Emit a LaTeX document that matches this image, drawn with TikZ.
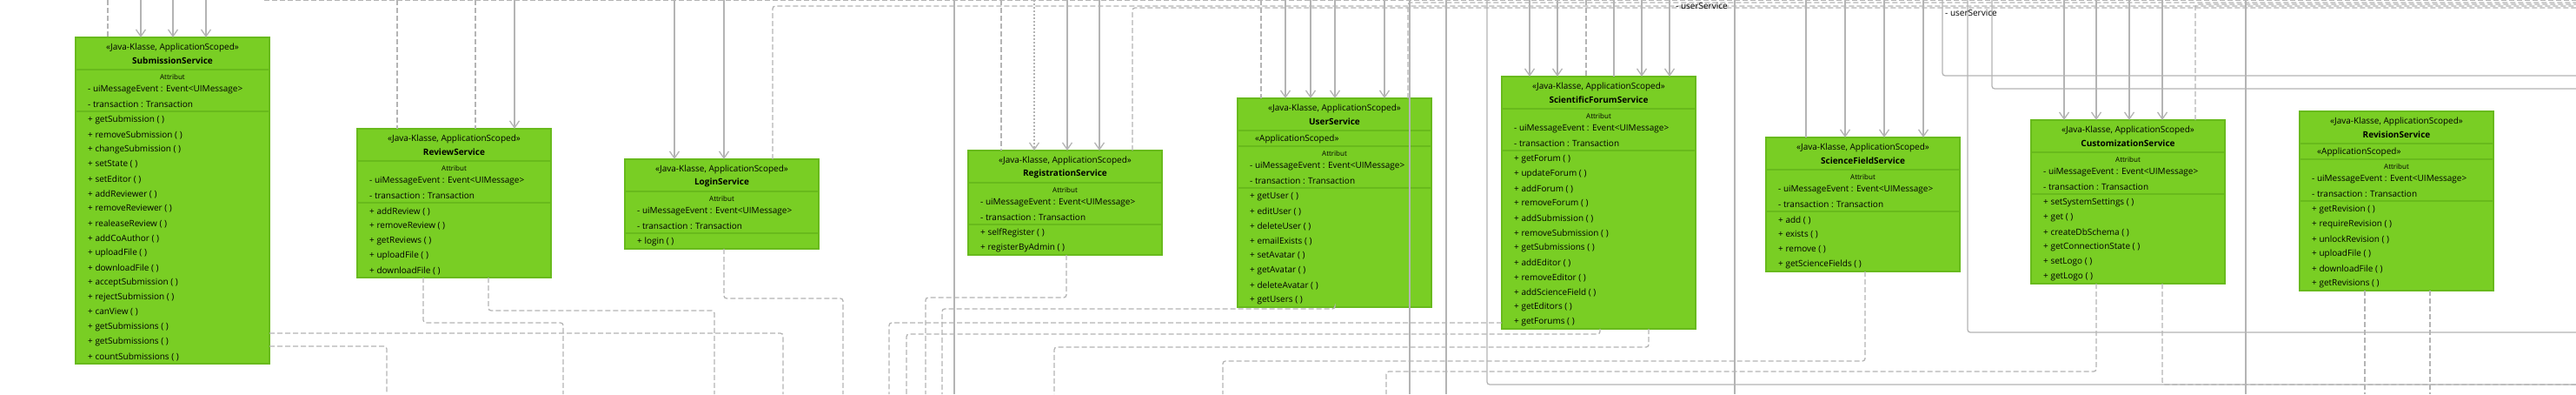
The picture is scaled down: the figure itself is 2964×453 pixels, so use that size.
\documentclass[tikz,border=0pt]{standalone}
\usepackage{fontspec}
\setmainfont{Open Sans}
\usetikzlibrary{arrows.meta, positioning}
\definecolor{svcfill}{RGB}{121,206,36}
\definecolor{svcline}{RGB}{104,186,28}
\definecolor{wiregray}{RGB}{180,180,180}
\tikzset{svc/.style = {draw=svcline, fill=svcfill, line width=1.3pt, anchor=north west,
                       minimum width=223pt, inner sep=0pt, outer sep=0pt},
         stereo/.style = {inner sep=0pt, font=\fontsize{10}{12}\selectfont},
         cname/.style = {inner sep=0pt, font=\bfseries\fontsize{10}{12}\selectfont},
         attrhead/.style = {inner sep=0pt, font=\fontsize{8}{10}\selectfont},
         member/.style = {inner sep=0pt, anchor=west, font=\fontsize{10}{12}\selectfont},
         divider/.style = {draw=svcline, line width=1.3pt},
         wire/.style = {draw=wiregray, line width=1.3pt, rounded corners=3pt},
         dashwire/.style = {wire, dash pattern=on 6pt off 3pt},
         arrowwire/.style = {wire, -{Straight Barb[length=8pt, width=11pt]}},
         role/.style = {inner sep=0pt, anchor=west, font=\fontsize{10}{12}\selectfont}}
\newcommand{\service}[7]{%
  \node[svc, minimum height=#5pt] (#1) at (#2,#3) {};
  \node[stereo] at ([yshift=-12pt]#1.north) {«Java-Klasse, ApplicationScoped»};
  \node[cname] at ([yshift=-27pt]#1.north) {#6};
  \draw[divider] ([yshift=-37pt]#1.north west) -- ([yshift=-37pt]#1.north east);
  \ifnum#4>0
    \node[member] at ([xshift=20pt, yshift=-47pt]#1.north west) {«ApplicationScoped»};
    \draw[divider] ([yshift=-55pt]#1.north west) -- ([yshift=-55pt]#1.north east);
  \fi
  \node[attrhead] at ([yshift={-(45+#4)*1pt}]#1.north) {Attribut};
  \node[member] at ([xshift=14pt, yshift={-(60+#4)*1pt}]#1.north west) {- uiMessageEvent : Event<UIMessage>};
  \node[member] at ([xshift=14pt, yshift={-(77+#4)*1pt}]#1.north west) {- transaction : Transaction};
  \draw[divider] ([yshift={-(85+#4)*1pt}]#1.north west) -- ([yshift={-(85+#4)*1pt}]#1.north east);
  \foreach \m [count=\i from 0] in {#7}
    \node[member] at ([xshift=14pt, yshift={-(95+#4+17*\i)*1pt}]#1.north west) {+ \m\ ( )};
}

\begin{document}
\begin{tikzpicture}[x=1pt, y=-1pt]
  \useasboundingbox (0,0) rectangle (2964,453);

  \service{subm}{87}{43}{0}{375}{SubmissionService}{getSubmission, removeSubmission, changeSubmission,
    setState, setEditor, addReviewer, removeReviewer, realeaseReview, addCoAuthor, uploadFile,
    downloadFile, acceptSubmission, rejectSubmission, canView, getSubmissions, getSubmissions, countSubmissions}
  \service{review}{411}{148}{0}{171}{ReviewService}{addReview, removeReview, getReviews, uploadFile, downloadFile}
  \service{login}{719}{183}{0}{103}{LoginService}{login}
  \service{regist}{1114}{173}{0}{120}{RegistrationService}{selfRegister, registerByAdmin}
  \service{user}{1424}{113}{18}{240}{UserService}{getUser, editUser, deleteUser, emailExists,
    setAvatar, getAvatar, deleteAvatar, getUsers}
  \service{forum}{1728}{88}{0}{290}{ScientificForumService}{getForum, updateForum, addForum, removeForum,
    addSubmission, removeSubmission, getSubmissions, addEditor, removeEditor, addScienceField, getEditors, getForums}
  \service{field}{2032}{158}{0}{154}{ScienceFieldService}{add, exists, remove, getScienceFields}
  \service{custom}{2337}{138}{0}{188}{CustomizationService}{setSystemSettings, get, createDbSchema,
    getConnectionState, setLogo, getLogo}
  \service{revision}{2646}{128}{18}{206}{RevisionService}{getRevision, requireRevision, unlockRevision,
    uploadFile, downloadFile, getRevisions}

  \foreach \x in {162,199,237} \draw[arrowwire] (\x,0) -- (\x,0 |- subm.north);
  \draw[arrowwire] (592,0) -- (592,0 |- review.north);
  \foreach \x in {776,833} \draw[arrowwire] (\x,0) -- (\x,0 |- login.north);
  \draw[arrowwire, dash pattern=on 2pt off 2pt] (1190,0) -- (1190,0 |- regist.north);
  \foreach \x in {1228,1265} \draw[arrowwire] (\x,0) -- (\x,0 |- regist.north);
  \foreach \x in {1479,1508,1536,1593} \draw[arrowwire] (\x,0) -- (\x,0 |- user.north);
  \foreach \x in {1760,1792,1889,1921} \draw[arrowwire] (\x,0) -- (\x,0 |- forum.north);
  \foreach \x in {2123,2168,2213} \draw[arrowwire] (\x,0) -- (\x,0 |- field.north);
  \foreach \x in {2375,2412,2450,2488} \draw[arrowwire] (\x,0) -- (\x,0 |- custom.north);

  \draw[dashwire] (124,0) -- (124,0 |- subm.north);
  \foreach \x in {457,547} \draw[dashwire] (\x,0) -- (\x,0 |- review.north);
  \draw[dashwire] (1152,0) -- (1152,0 |- regist.north);
  \draw[dashwire] (1451,0) -- (1451,0 |- user.north);
  \draw[dashwire] (1825,0) -- (1825,0 |- forum.north);
  \draw[wire] (1857,0) -- (1857,0 |- forum.north);
  \draw[wire] (2078,0) -- (2078,0 |- field.north);

  \draw[dashwire] (304,0) -- (2964,0);
  \draw[dashwire] (889,0 |- login.north) |- (2964,7);
  \draw[dashwire] (1303,0 |- regist.north) |- (2964,9);
  \draw[dashwire] (1620,0 |- user.north) |- (2964,3);
  \draw[dashwire] (2526,0 |- custom.north) |- (2964,5);

  \foreach \x in {1098,1622,1664,1996,2584} \draw[wire] (\x,0) -- (\x,453);
  \draw[wire] (1711,0) |- (2964,442);
  \draw[wire] (2235,0) |- (2964,87);
  \draw[wire] (2292,0) |- (2964,102);
  \draw[wire] (2264,0) |- (2964,382);

  \draw[dashwire] (subm.east |- 0,383) -| (901,453);
  \draw[dashwire] (subm.east |- 0,398) -| (445,453);
  \draw[dashwire] (487,0 |- review.south) |- (648,371) -- (648,453);
  \draw[dashwire] (562,0 |- review.south) |- (822,357) -- (822,453);
  \draw[dashwire] (833,0 |- login.south) |- (970,343) -- (970,453);
  \draw[dashwire] (1227,0 |- regist.south) |- (1065,342) -- (1065,453);
  \draw[dashwire] (1536,0 |- user.south) |- (1084,355) -- (1084,453);
  \draw[dashwire] (forum.west |- 0,371) -| (1023,453);
  \draw[dashwire] (1841,0 |- forum.south) |- (1043,384) -- (1043,453);
  \draw[dashwire] (1897,0 |- forum.south) |- (1213,399) -- (1213,453);
  \draw[dashwire] (2146,0 |- field.south) |- (1407,415) -- (1407,453);
  \draw[dashwire] (2412,0 |- custom.south) |- (1595,427) -- (1595,453);
  \draw[dashwire] (2488,0 |- custom.south) |- (2964,442);
  \foreach \x in {2721,2796} \draw[dashwire] (\x,0 |- revision.south) -- (\x,453);

  \node[role] (role1) at (1928,7) {- userService};
  \node[role] (role2) at (2238,15) {- userService};
\end{tikzpicture}
\end{document}
